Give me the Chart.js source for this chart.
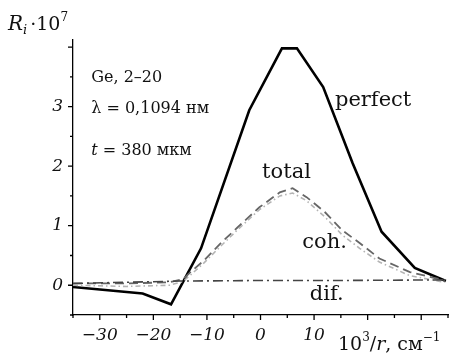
<!DOCTYPE html>
<html>
<head>
<meta charset="utf-8">
<script src="https://cdn.jsdelivr.net/npm/chart.js@4.4.1/dist/chart.umd.min.js"></script>
<style>
  html, body { margin: 0; background: #fff; }
  #wrap { width: 457px; height: 356px; }
</style>
</head>
<body>
<div id="wrap"><canvas id="chart"></canvas></div>
<script>
// curve data: x = 10^3/r (cm^-1), y = R_i * 10^7
const perfectX = [-35, -22, -16.7, -11.1, -2.1, 4.0, 6.8, 11.7, 17.2, 22.6, 28.8, 34.6];
const perfectY = [-0.03, -0.14, -0.32, 0.62, 2.94, 3.98, 3.98, 3.33, 2.05, 0.90, 0.29, 0.07];

const totalX = [-35, -25, -17, -14.5, -12.7, -10.5, -7.5, -4.3, -0.2, 3.6, 6.0, 8.6, 12, 15.3, 18.5, 22.2, 27.9, 34.4];
const totalY = [0.03, 0.03, 0.05, 0.10, 0.25, 0.42, 0.70, 0.97, 1.31, 1.56, 1.63, 1.48, 1.23, 0.92, 0.71, 0.45, 0.22, 0.08];

const cohX = [-35, -25, -17, -14.5, -12.7, -10.5, -7.5, -4.3, -0.2, 3.6, 6.0, 8.6, 12, 15.3, 18.5, 22.2, 27.9, 34.4];
const cohY = [0.00, -0.02, 0.00, 0.06, 0.20, 0.38, 0.65, 0.93, 1.27, 1.50, 1.55, 1.42, 1.15, 0.84, 0.62, 0.39, 0.16, 0.05];

const difX = [-35, -25, -15, 0, 15, 34.6];
const difY = [0.03, 0.05, 0.07, 0.08, 0.08, 0.09];

// axis ticks
const xMajor = [-30, -20, -10, 0, 10, 20, 30];
const xMinor = [-35, -25, -15, -5, 5, 15, 25, 35];
const xLabels = [-30, -20, -10, 0, 10];
const yMajor = [0, 1, 2, 3, 4];
const yMinor = [-0.5, 0.5, 1.5, 2.5, 3.5];
const yLabels = [0, 1, 2, 3];

const SERIF = '"DejaVu Serif", "Liberation Serif", serif';

function pts(xs, ys) {
    return xs.map((x, i) => ({ x: x, y: ys[i] }));
}

function fmt(v) {
    return v < 0 ? '\u2212' + Math.abs(v) : String(v);
}

// draws runs of text one after another, returns end x
function runs(ctx, x, y, parts) {
    parts.forEach(p => {
        ctx.font = p.font;
        ctx.fillText(p.t, x, y + (p.dy || 0));
        x += ctx.measureText(p.t).width + (p.gap || 0);
    });
    return x;
}

const axesPlugin = {
    id: 'axesPlugin',
    afterDraw(chart) {
        const ctx = chart.ctx;
        const xs = chart.scales.x, ys = chart.scales.y;
        const area = chart.chartArea;
        ctx.save();
        ctx.strokeStyle = '#000';
        ctx.lineWidth = 1.3;
        ctx.beginPath();
        yMajor.forEach(v => { const p = ys.getPixelForValue(v); ctx.moveTo(area.left - 5, p); ctx.lineTo(area.left, p); });
        yMinor.forEach(v => { const p = ys.getPixelForValue(v); ctx.moveTo(area.left - 3, p); ctx.lineTo(area.left, p); });
        xMajor.forEach(v => { const p = xs.getPixelForValue(v); ctx.moveTo(p, area.bottom); ctx.lineTo(p, area.bottom + 5); });
        xMinor.forEach(v => { const p = xs.getPixelForValue(v); ctx.moveTo(p, area.bottom); ctx.lineTo(p, area.bottom + 3); });
        ctx.stroke();

        ctx.fillStyle = '#111';
        ctx.textBaseline = 'middle';
        ctx.textAlign = 'right';
        ctx.font = 'italic 17px ' + SERIF;
        yLabels.forEach(v => ctx.fillText(fmt(v), area.left - 10, ys.getPixelForValue(v)));
        ctx.textAlign = 'center';
        ctx.textBaseline = 'alphabetic';
        xLabels.forEach(v => ctx.fillText(fmt(v), xs.getPixelForValue(v), area.bottom + 25));

        ctx.textAlign = 'left';
        // y axis title
        runs(ctx, 8, 30, [
            { t: 'R', font: 'italic 20px ' + SERIF },
            { t: 'i', font: 'italic 13px ' + SERIF, dy: 4, gap: 3 },
            { t: '\u00b710', font: '19px ' + SERIF },
            { t: '7', font: '12px ' + SERIF, dy: -9 }
        ]);
        // x axis title
        runs(ctx, 338, area.bottom + 35, [
            { t: '10', font: '19px ' + SERIF },
            { t: '3', font: '12px ' + SERIF, dy: -9 },
            { t: '/', font: '19px ' + SERIF },
            { t: 'r', font: 'italic 19px ' + SERIF },
            { t: ', \u0441\u043c', font: '19px ' + SERIF },
            { t: '\u22121', font: '12px ' + SERIF, dy: -9 }
        ]);

        // annotations placed in data coordinates
        const at = (x, y) => [xs.getPixelForValue(x), ys.getPixelForValue(y)];
        let p;
        p = at(-31.6, 3.41);
        runs(ctx, p[0], p[1], [{ t: 'Ge, 2\u201320', font: '16px ' + SERIF }]);
        p = at(-31.6, 2.90);
        runs(ctx, p[0], p[1], [{ t: '\u03bb = 0,1094 \u043d\u043c', font: '16px ' + SERIF }]);
        p = at(-31.6, 2.18);
        runs(ctx, p[0], p[1], [
            { t: 't', font: 'italic 16px ' + SERIF },
            { t: ' = 380 \u043c\u043a\u043c', font: '16px ' + SERIF }
        ]);
        p = at(13.9, 3.01);
        runs(ctx, p[0], p[1], [{ t: 'perfect', font: '21px ' + SERIF }]);
        p = at(0.3, 1.81);
        runs(ctx, p[0], p[1], [{ t: 'total', font: '21px ' + SERIF }]);
        p = at(7.8, 0.62);
        runs(ctx, p[0], p[1], [{ t: 'coh.', font: '21px ' + SERIF }]);
        p = at(9.2, -0.25);
        runs(ctx, p[0], p[1], [{ t: 'dif.', font: '21px ' + SERIF }]);
        ctx.restore();
    }
};

const hiddenAxis = (min, max, horizontal) => ({
    type: 'linear',
    min: min,
    max: max,
    grid: { display: false, drawTicks: false },
    border: { display: true, color: '#000', width: 1.3 },
    ticks: { display: false },
    afterFit: s => { if (horizontal) s.height = 0; else s.width = 0; }
});

new Chart(document.getElementById('chart'), {
    type: 'scatter',
    data: {
        datasets: [
            {
                label: 'dif.',
                data: pts(difX, difY),
                showLine: true,
                borderColor: '#444',
                borderWidth: 1.6,
                borderDash: [10, 4, 2, 4],
                pointRadius: 0
            },
            {
                label: 'coh.',
                data: pts(cohX, cohY),
                showLine: true,
                borderColor: '#b4b4b4',
                borderWidth: 1.6,
                borderDash: [5, 3, 1.5, 3],
                pointRadius: 0
            },
            {
                label: 'total',
                data: pts(totalX, totalY),
                showLine: true,
                borderColor: '#666',
                borderWidth: 1.8,
                borderDash: [9, 5],
                pointRadius: 0
            },
            {
                label: 'perfect',
                data: pts(perfectX, perfectY),
                showLine: true,
                borderColor: '#000',
                borderWidth: 2.6,
                pointRadius: 0
            }
        ]
    },
    options: {
        responsive: true,
        maintainAspectRatio: false,
        animation: false,
        layout: { padding: { left: 73, right: 9, top: 40, bottom: 41 } },
        plugins: { legend: { display: false }, tooltip: { enabled: false } },
        scales: {
            x: hiddenAxis(-35, 35, true),
            y: hiddenAxis(-0.5, 4.12, false)
        }
    },
    plugins: [axesPlugin]
});
</script>
</body>
</html>
